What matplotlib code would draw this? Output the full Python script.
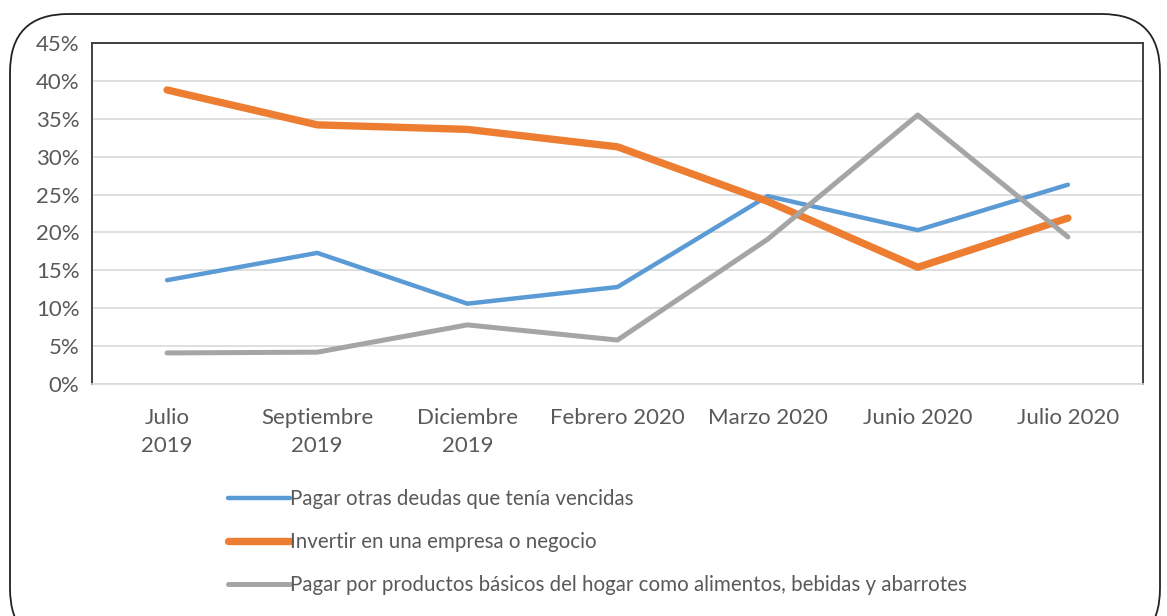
import matplotlib.pyplot as plt
from matplotlib.patches import FancyBboxPatch
from matplotlib.ticker import PercentFormatter

# categories and series (values in %)
meses = ["Julio\n2019", "Septiembre\n2019", "Diciembre\n2019", "Febrero 2020",
         "Marzo 2020", "Junio 2020", "Julio 2020"]
deudas = [13.7, 17.3, 10.6, 12.8, 24.8, 20.3, 26.3]
negocio = [38.8, 34.2, 33.6, 31.3, 24.1, 15.4, 21.9]
hogar = [4.1, 4.2, 7.8, 5.8, 19.1, 35.5, 19.4]

nombres = ["Pagar otras deudas que tenía vencidas",
           "Invertir en una empresa o negocio",
           "Pagar por productos básicos del hogar como alimentos, bebidas y abarrotes"]

plt.rcParams["font.family"] = ["Lato", "DejaVu Sans"]
txt = "#595959"

fig = plt.figure(figsize=(11.67, 6.16), dpi=100)
ax = fig.add_axes([92/1167, 1-384/616, (1143-92)/1167, (384-43)/616])

# rounded outer frame
frame = FancyBboxPatch((10/1167, -0.05), 1150/1167, 1-14/616+0.05,
                       boxstyle="round,pad=0,rounding_size=0.05",
                       transform=fig.transFigure, fill=False, ec="#222222", lw=1.3,
                       mutation_aspect=1167/616)
fig.patches.append(frame)

x = range(len(meses))
ax.plot(x, deudas, color="#5B9BD5", lw=3.2, solid_capstyle="round", label=nombres[0])
ax.plot(x, negocio, color="#ED7D31", lw=5.3, solid_capstyle="round", label=nombres[1])
ax.plot(x, hogar, color="#A5A5A5", lw=3.6, solid_capstyle="round", label=nombres[2])

ax.set_xlim(-0.5, 6.5)
ax.set_ylim(0, 45)
ax.set_yticks(range(0, 46, 5))
ax.yaxis.set_major_formatter(PercentFormatter(decimals=0))
ax.set_xticks(list(x))
ax.set_xticklabels(meses, linespacing=1.55)
ax.tick_params(length=0, labelsize=16, colors=txt)
ax.tick_params(axis="x", pad=17)
ax.tick_params(axis="y", pad=9)
ax.grid(axis="y", color="#D9D9D9", lw=1.2)
ax.set_axisbelow(True)
for s in ["left", "top", "right"]:
    ax.spines[s].set_color("#404040")
    ax.spines[s].set_linewidth(1.4)
ax.spines["bottom"].set_color("#D9D9D9")
ax.spines["bottom"].set_linewidth(1.2)

leg = fig.legend(loc="upper left", bbox_to_anchor=(228/1167, 1-489/616),
                 frameon=False, fontsize=14.8, handlelength=3.0, handletextpad=0,
                 labelspacing=1.12, borderpad=0, borderaxespad=0)
for t in leg.get_texts():
    t.set_color(txt)

fig.savefig("out.png", dpi=100)
